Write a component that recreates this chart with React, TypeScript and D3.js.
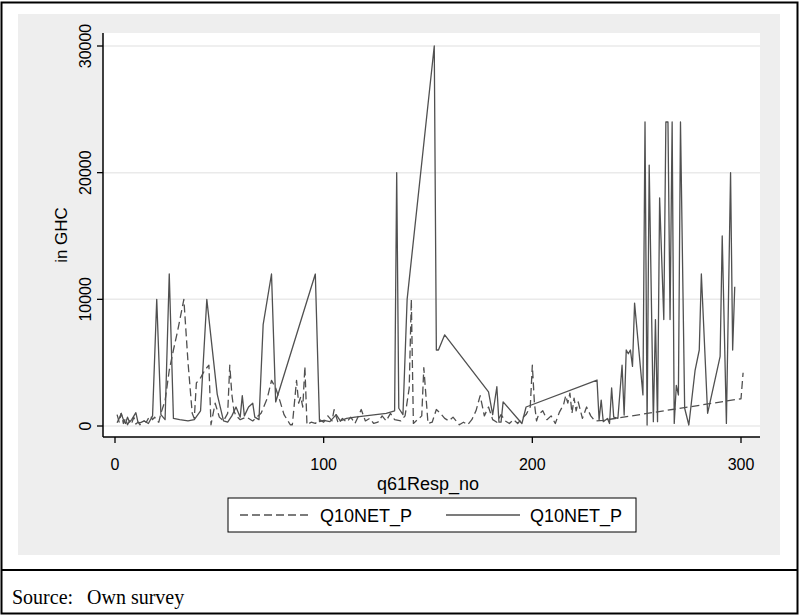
import * as d3 from "d3";

// Q10NET_P (dashed) – respondent number and value in GHC
const dashedResp = [1, 2, 3, 4, 5, 6, 7, 8, 9, 10, 11, 12, 13, 14, 15, 16, 17, 18, 19, 20, 21, 22, 24, 26, 28, 30, 33, 35, 37, 38, 39, 41, 43, 45, 46, 48, 50, 52, 54, 55, 56, 57, 58, 60, 63, 66, 70, 73, 75, 77, 79, 81, 84, 85, 87, 88, 89, 90, 91, 92, 94, 96, 98, 100, 102, 104, 105, 107, 109, 111, 113, 115, 117, 118, 120, 122, 124, 126, 128, 130, 132, 134, 137, 139, 141, 142, 143, 145, 147, 148, 150, 152, 154, 156, 158, 160, 162, 165, 167, 169, 171, 173, 175, 177, 179, 181, 183, 185, 187, 189, 191, 193, 195, 197, 199, 200, 201, 202, 203, 205, 207, 209, 211, 213, 215, 216, 217, 218, 219, 220, 221, 222, 224, 226, 228, 230, 234, 300, 301];
const dashedVal = [900, 300, 1000, 200, 600, 100, 400, 200, 700, 150, 300, 100, 200, 400, 300, 600, 800, 500, 700, 400, 300, 1000, 2000, 4400, 6000, 7500, 10000, 5000, 1000, 600, 3400, 3800, 4400, 4800, 100, 1800, 700, 400, 1000, 4800, 2500, 1200, 800, 500, 700, 400, 1000, 2200, 3600, 3000, 2000, 900, 100, 100, 3600, 1800, 2300, 1500, 4700, 100, 300, 200, 500, 300, 800, 400, 1300, 200, 600, 300, 700, 200, 900, 1300, 400, 600, 200, 300, 800, 400, 1000, 500, 400, 800, 3000, 10000, 200, 500, 800, 4600, 200, 300, 1300, 1000, 600, 400, 700, 100, 300, 100, 500, 1200, 2400, 800, 1500, 500, 300, 900, 400, 200, 500, 200, 600, 900, 1500, 4800, 1800, 400, 900, 1200, 500, 800, 200, 1100, 1700, 2400, 1800, 2600, 1000, 2200, 1200, 1900, 600, 1500, 800, 400, 450, 2150, 4200];

// Q10NET_P (solid)
const solidResp = [1, 2, 3, 4, 5, 6, 7, 8, 10, 11, 12, 14, 16, 18, 20, 22, 24, 26, 28, 31, 35, 38, 41, 44, 49, 52, 54, 56, 58, 60, 61, 62, 64, 66, 67, 69, 71, 75, 77, 96, 98, 100, 103, 106, 108, 111, 115, 120, 125, 130, 134, 135, 136, 138, 140, 153, 154, 155, 158, 179, 181, 183, 184, 185, 186, 195, 197, 231, 232, 233, 234, 236, 237, 238, 239, 241, 243, 244, 245, 246, 247, 248, 249, 253, 254, 255, 256, 258, 259, 260, 261, 263, 264, 265, 266, 267, 268, 269, 270, 271, 273, 275, 278, 280, 281, 284, 290, 291, 293, 295, 296, 297];
const solidVal = [250, 600, 1000, 500, 200, 700, 300, 500, 1050, 300, 250, 400, 200, 800, 10000, 900, 500, 12000, 600, 500, 400, 500, 1200, 10000, 2500, 400, 300, 800, 1500, 700, 2400, 800, 1500, 1800, 700, 500, 8000, 12000, 1900, 12000, 350, 450, 350, 900, 400, 600, 700, 800, 900, 1000, 1200, 20000, 1400, 900, 10000, 30000, 6000, 6000, 7200, 2700, 900, 3100, 300, 300, 1900, 200, 1500, 3630, 470, 2050, 340, 600, 200, 3000, 700, 600, 4800, 870, 6000, 5700, 6000, 4700, 9700, 2450, 24000, 80, 20600, 340, 8400, 340, 18000, 8400, 24000, 24000, 8400, 24000, 200, 3200, 2450, 24000, 1400, 80, 4400, 6000, 12000, 1000, 5500, 15000, 200, 20000, 6000, 11000];

const xTicks = [0, 100, 200, 300];
const yTicks = [0, 10000, 20000, 30000];
const legendLabels = ["Q10NET_P", "Q10NET_P"];

const W = 800;
const H = 616;
const plot = { left: 103, right: 760, top: 33, bottom: 437 };
const sans = "'Liberation Sans', Arial, sans-serif";
const ink = "#505050";

export default function App() {
  const x = d3.scaleLinear().domain([0, 300]).range([115, 741]);
  const y = d3.scaleLinear().domain([0, 30000]).range([426, 46]);

  const line = d3
    .line<[number, number]>()
    .x((d) => x(d[0]))
    .y((d) => y(d[1]));

  const dashed = dashedResp.map((r, i) => [r, dashedVal[i]] as [number, number]);
  const solid = solidResp.map((r, i) => [r, solidVal[i]] as [number, number]);

  return (
    <svg
      width={W}
      height={H}
      style={{ position: "absolute", left: 0, top: 0 }}
      fontFamily={sans}
    >
      <rect x={0} y={0} width={W} height={H} fill="white" />
      {/* grey graph region */}
      <rect x={18} y={14} width={762} height={541} fill="#eeeeee" />
      <rect
        x={plot.left}
        y={plot.top}
        width={plot.right - plot.left}
        height={plot.bottom - plot.top}
        fill="white"
      />
      {yTicks.map((t) => (
        <line
          key={"g" + t}
          x1={plot.left}
          x2={plot.right}
          y1={y(t)}
          y2={y(t)}
          stroke="#eaeaea"
          strokeWidth={1.5}
        />
      ))}

      <path
        d={line(dashed) ?? ""}
        fill="none"
        stroke={ink}
        strokeWidth={1.3}
        strokeDasharray="8 4"
        strokeLinejoin="round"
      />
      <path
        d={line(solid) ?? ""}
        fill="none"
        stroke={ink}
        strokeWidth={1.3}
        strokeLinejoin="round"
      />

      {/* axes */}
      <line x1={plot.left} x2={plot.left} y1={plot.top} y2={plot.bottom} stroke="black" strokeWidth={1.5} />
      <line x1={plot.left} x2={plot.right} y1={plot.bottom} y2={plot.bottom} stroke="black" strokeWidth={1.5} />
      {yTicks.map((t) => (
        <g key={"y" + t}>
          <line x1={plot.left - 6} x2={plot.left} y1={y(t)} y2={y(t)} stroke="black" strokeWidth={1.3} />
          <text
            transform={`translate(${plot.left - 12},${y(t)}) rotate(-90)`}
            textAnchor="middle"
            fontSize={16}
          >
            {t}
          </text>
        </g>
      ))}
      {xTicks.map((t) => (
        <g key={"x" + t}>
          <line x1={x(t)} x2={x(t)} y1={plot.bottom} y2={plot.bottom + 6} stroke="black" strokeWidth={1.3} />
          <text x={x(t)} y={plot.bottom + 33} textAnchor="middle" fontSize={16}>
            {t}
          </text>
        </g>
      ))}
      <text transform="translate(67,235) rotate(-90)" textAnchor="middle" fontSize={17}>
        in GHC
      </text>
      <text x={428} y={490} textAnchor="middle" fontSize={18}>
        q61Resp_no
      </text>

      {/* legend */}
      <rect x={228} y={498} width={408} height={34} fill="white" stroke="black" strokeWidth={1} />
      <line x1={240} x2={310} y1={515} y2={515} stroke={ink} strokeWidth={1.3} strokeDasharray="8 4" />
      <text x={320} y={522} fontSize={18}>
        {legendLabels[0]}
      </text>
      <line x1={446} x2={520} y1={515} y2={515} stroke={ink} strokeWidth={1.3} />
      <text x={530} y={522} fontSize={18}>
        {legendLabels[1]}
      </text>

      {/* frame */}
      <rect x={1.5} y={2.5} width={796} height={611} fill="none" stroke="black" strokeWidth={2} />
      <line x1={1.5} x2={797.5} y1={570} y2={570} stroke="black" strokeWidth={2} />
      <text x={12} y={604} fontFamily="'Liberation Serif', 'Times New Roman', serif" fontSize={20}>
        Source:
        <tspan x={87}>Own survey</tspan>
      </text>
    </svg>
  );
}
